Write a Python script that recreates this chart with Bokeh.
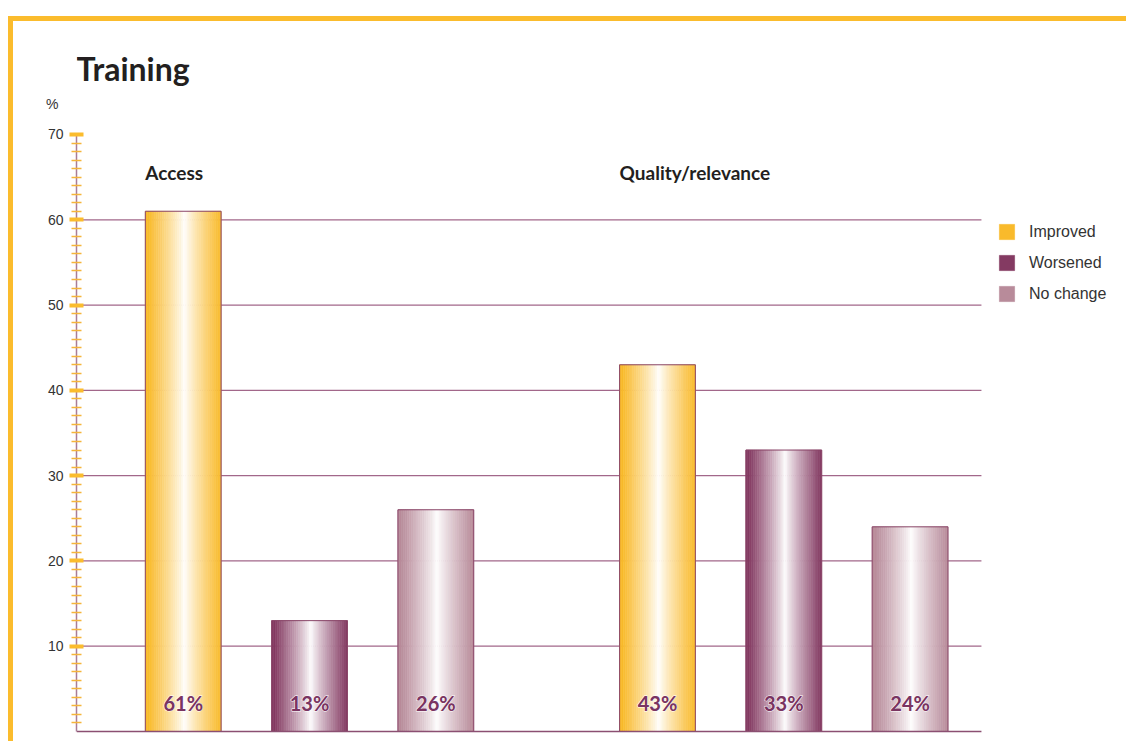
from bokeh.plotting import figure
from bokeh.models import Range1d, FixedTicker, Label, Legend, LegendItem, ColumnDataSource, LinearAxis
from bokeh.core.properties import value
from bokeh.embed import file_html
from bokeh.resources import INLINE

# ---- data ----
groups = ["Access", "Quality/relevance"]
series = ["Improved", "Worsened", "No change"]
improved = [61, 43]
worsened = [13, 33]
no_change = [26, 24]
y_ticks = [10, 20, 30, 40, 50, 60, 70]
grid_ticks = [10, 20, 30, 40, 50, 60]
title_text = "Training"
y_unit = "%"

values = {"Improved": improved, "Worsened": worsened, "No change": no_change}
colors = {"Improved": "#F9BA2B", "Worsened": "#843A62", "No change": "#B88B9A"}

# ---- layout constants ----
group_start = [0.845, 4.60]
bar_step = 1.0
bar_w = 0.6
N = 40
plot_x_end = 7.165

def hex_to_rgb(h):
    h = h.lstrip("#")
    return tuple(int(h[i:i + 2], 16) for i in (0, 2, 4))

def mix(c, f):
    r, g, b = hex_to_rgb(c)
    return "#%02x%02x%02x" % (round(255 + (r - 255) * f), round(255 + (g - 255) * f), round(255 + (b - 255) * f))

p = figure(width=1118, height=725, output_backend="svg", toolbar_location=None, title=None,
           x_range=Range1d(0, 8.3531), y_range=Range1d(-1.7588, 83.249),
           min_border_left=63, min_border_right=0, min_border_top=0, min_border_bottom=0)
p.outline_line_color = None
p.background_fill_color = "white"
p.border_fill_color = "white"
p.styles = {"border-top": "5px solid #FBBC2D", "border-left": "5px solid #FBBC2D",
            "margin-top": "16px", "margin-left": "8px"}

# grid lines (below bars)
p.segment(x0=[0] * len(grid_ticks), x1=[plot_x_end] * len(grid_ticks), y0=grid_ticks, y1=grid_ticks,
          line_color="#A2678A", line_width=1.3)

# gradient bars, one renderer per series
legend_items = []
ol, orr, ot = [], [], []
lx, lt = [], []
for si, s in enumerate(series):
    sl, sr, st, sc = [], [], [], []
    for gi, g in enumerate(groups):
        c = group_start[gi] + si * bar_step
        v = values[s][gi]
        left = c - bar_w / 2
        for k in range(N):
            t = (k + 0.5) / N
            f = min(1.0, abs(t - 0.52) / 0.48) ** 0.85
            sl.append(left + k * bar_w / N)
            sr.append(left + (k + 1) * bar_w / N)
            st.append(v)
            sc.append(mix(colors[s], f))
        ol.append(left)
        orr.append(left + bar_w)
        ot.append(v)
        lx.append(c)
        lt.append(f"{v}%")
    src = ColumnDataSource(dict(left=sl, right=sr, top=st, color=sc))
    r = p.quad(left="left", right="right", top="top", bottom=0, fill_color="color",
               line_color="color", line_width=0.6, source=src)
    legend_items.append(LegendItem(label=s, renderers=[r], index=0))

p.quad(left=ol, right=orr, top=ot, bottom=0, fill_color=None, line_color="#8A4668", line_width=1)

p.segment(x0=[0], x1=[plot_x_end], y0=[0], y1=[0], line_color="#8B4F72", line_width=1.6)

label_y = [3.4] * len(lx)
p.text(x=lx, y=label_y, text=lt, text_align="center", text_baseline="middle",
       text_font=value("Lato"), text_font_style="bold", text_font_size="20px",
       text_color="#7A3461", text_outline_color="white")
p.text(x=lx, y=label_y, text=lt, text_align="center", text_baseline="middle",
       text_font=value("Lato"), text_font_style="bold", text_font_size="20px",
       text_color="#7A3461")

# axes
p.xaxis.visible = False
p.xgrid.visible = False
p.ygrid.visible = False

ax = p.yaxis[0]
ax.bounds = (0, 70)
ax.ticker = FixedTicker(ticks=y_ticks, minor_ticks=[i for i in range(1, 70) if i % 10])
ax.axis_line_color = "#A97D96"
ax.axis_line_width = 1.5
ax.major_tick_line_color = "#FBBC2D"
ax.major_tick_line_width = 4
ax.major_tick_in = 7
ax.major_tick_out = 7
ax.minor_tick_line_color = "#F5B53A"
ax.minor_tick_line_width = 1.3
ax.minor_tick_in = 5
ax.minor_tick_out = 5
ax.major_label_text_font = "Liberation Sans"
ax.major_label_text_font_size = "14px"
ax.major_label_text_color = "#333333"
ax.major_label_standoff = 6

pct_axis = LinearAxis(ticker=FixedTicker(ticks=[73.6]), major_label_overrides={73.6: y_unit},
                      axis_line_color=None, major_tick_line_color=None, major_tick_in=0, major_tick_out=0,
                      minor_tick_line_color=None, minor_tick_in=0, minor_tick_out=0,
                      major_label_standoff=-14, major_label_text_font="Liberation Sans",
                      major_label_text_font_size="14px", major_label_text_color="#333333")
p.add_layout(pct_axis, "left")

# texts
p.add_layout(Label(x=0, y=77.75, text=title_text, text_align="left", text_baseline="alphabetic",
                   text_font="Lato", text_font_style="bold", text_font_size="32px", text_color="#231F20"))
for gi, g in enumerate(groups):
    p.add_layout(Label(x=group_start[gi] - bar_w / 2, y=65.5, text=g, text_align="left",
                       text_baseline="middle", text_font="Lato", text_font_style="bold",
                       text_font_size="19px", text_color="#231F20"))

# legend
legend = Legend(items=legend_items, location=(921, 441), glyph_width=19, glyph_height=19, label_height=23,
                spacing=8, label_standoff=13, padding=0, margin=0, border_line_color=None,
                background_fill_alpha=0, label_text_font="Liberation Sans", label_text_font_size="16px",
                label_text_color="#333333", label_text_baseline="middle")
p.add_layout(legend)

open("out.html", "w").write(file_html(p, INLINE))
